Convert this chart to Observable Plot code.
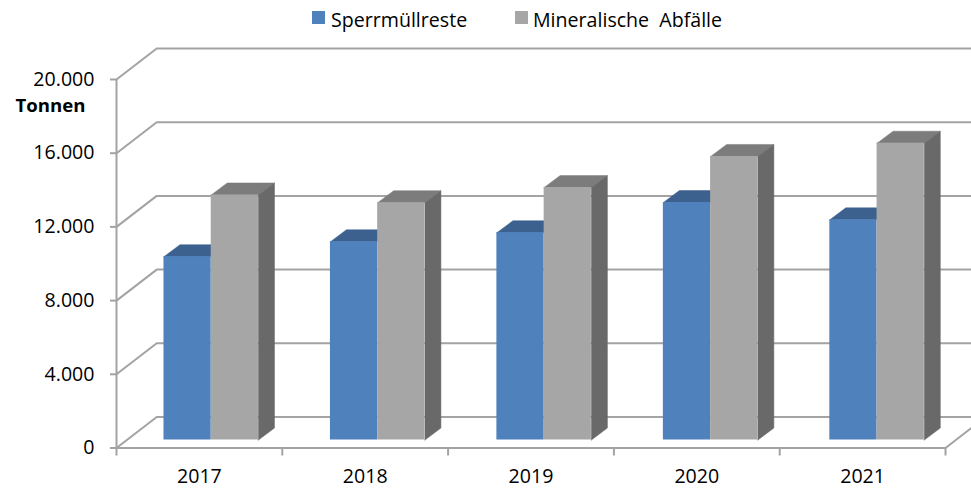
<!DOCTYPE html>
<html><head><meta charset="utf-8">
<style>
html,body{margin:0;padding:0;background:#fff;overflow:hidden}
#legend{position:relative;height:40px;width:971px;font-family:"Open Sans";font-size:19.6px;color:#000;white-space:pre}
#legend i{position:absolute;top:11px;width:13px;height:13px}
#legend span{position:absolute;top:8px;line-height:24px}
svg{display:block}
</style>
<script src="https://cdn.jsdelivr.net/npm/d3@7"></script>
<script src="https://cdn.jsdelivr.net/npm/@observablehq/plot@0.6"></script>
</head><body>
<div id="legend"></div>
<div id="chart"></div>
<script>
const years = ["2017","2018","2019","2020","2021"];
const sperrmuell = [9950,10760,11250,12890,11950];
const mineralisch = [13300,12880,13700,15390,16110];
const yTicks = [0,4000,8000,12000,16000,20000];
const names = ["Sperrmüllreste","Mineralische  Abfälle"];

// Depth of the 3D box and of the bars, in scale units (categories / tonnes)
const wallDX = 0.2425, wallDY = 1683;
const barInsetX = 0.0633, barInsetY = 434;
const barDX = 0.0965, barDY = 650;
const gapX = 0.223, barW = 0.285, barStep = 1.004;

const fmt = d => d3.format(",")(d).replace(/,/g,".");

const grid = yTicks.flatMap(v => [
  {k:v,x:0,y:v},{k:v,x:wallDX,y:v+wallDY},{k:v,x:5+wallDX,y:v+wallDY}
]);

function box(values, s){
  return values.map((v,i)=>{
    const x1=i*barStep+barInsetX+gapX+s*barW, x2=x1+barW, y0=barInsetY, y1=y0+v;
    return {i,s,x1,x2,y0,y1};
  });
}
const blue = box(sperrmuell,0), gray = box(mineralisch,1);
const poly = (b,pts)=>pts.map(([x,y])=>({k:b.i,x,y}));
const topFace = b => poly(b,[[b.x1,b.y1],[b.x2,b.y1],[b.x2+barDX,b.y1+barDY],[b.x1+barDX,b.y1+barDY],[b.x1,b.y1]]);
const sideFace = b => poly(b,[[b.x2,b.y0],[b.x2+barDX,b.y0+barDY],[b.x2+barDX,b.y1+barDY],[b.x2,b.y1],[b.x2,b.y0]]);
const lineOpts = fill => ({x:"x",y:"y",z:"k",fill,stroke:fill,strokeWidth:0.5,curve:"linear"});
const gridColor = "#a3a3a3";

const plot = Plot.plot({
  width:971,height:448,
  marginLeft:116,marginRight:26,marginTop:39,marginBottom:40.5,
  style:{overflow:"hidden",background:"#fff"},
  x:{type:"linear",domain:[0,5],range:[116,945],axis:null},
  y:{type:"linear",domain:[0,20000],range:[407.5,39],axis:null},
  marks:[
    Plot.line(grid,{x:"x",y:"y",z:"k",stroke:gridColor,strokeWidth:2}),
    Plot.ruleX([0],{y1:0,y2:20000,stroke:gridColor,strokeWidth:2}),
    Plot.ruleY([0],{x1:0,x2:5,stroke:gridColor,strokeWidth:2}),
    Plot.line([{x:5,y:0},{x:5+wallDX,y:wallDY}],{x:"x",y:"y",stroke:gridColor,strokeWidth:2}),
    Plot.axisY({ticks:yTicks,tickFormat:fmt,tickSize:6,tickPadding:16,stroke:gridColor,strokeWidth:2,
      fontSize:19.6,fontFamily:"Open Sans",fill:"#000",label:null}),
    Plot.axisX({ticks:d3.range(0,6),tickFormat:()=>"",tickSize:8,stroke:gridColor,strokeWidth:2,label:null}),
    Plot.axisX({ticks:d3.range(0,5).map(i=>i+0.5),tickFormat:d=>years[Math.floor(d)],tickSize:0,tickPadding:21,
      fontSize:19.6,fontFamily:"Open Sans",fill:"#000",label:null}),
    Plot.text(["Tonnen"],{x:0,y:18550,text:d=>d,textAnchor:"end",dx:-31,fontWeight:"bold",fontSize:18.6,fontFamily:"Open Sans",fill:"#000"}),
    // blue bars
    Plot.line(blue.flatMap(topFace),lineOpts("#3c618f")),
    Plot.rect(blue,{x1:"x1",x2:"x2",y1:"y0",y2:"y1",fill:"#4f81bd"}),
    // gray bars
    Plot.line(gray.flatMap(topFace),lineOpts("#7c7c7c")),
    Plot.line(gray.flatMap(sideFace),lineOpts("#696969")),
    Plot.rect(gray,{x1:"x1",x2:"x2",y1:"y0",y2:"y1",fill:"#a6a6a6"})
  ]
});
document.getElementById("chart").append(plot);

const legend = document.getElementById("legend");
[[312,331,"#4f81bd"],[515,533,"#a6a6a6"]].forEach(([sx,tx,c],i)=>{
  const sw=document.createElement("i");sw.style.left=sx+"px";sw.style.background=c;legend.append(sw);
  const t=document.createElement("span");t.style.left=tx+"px";t.textContent=names[i];legend.append(t);
});
</script>
</body></html>
